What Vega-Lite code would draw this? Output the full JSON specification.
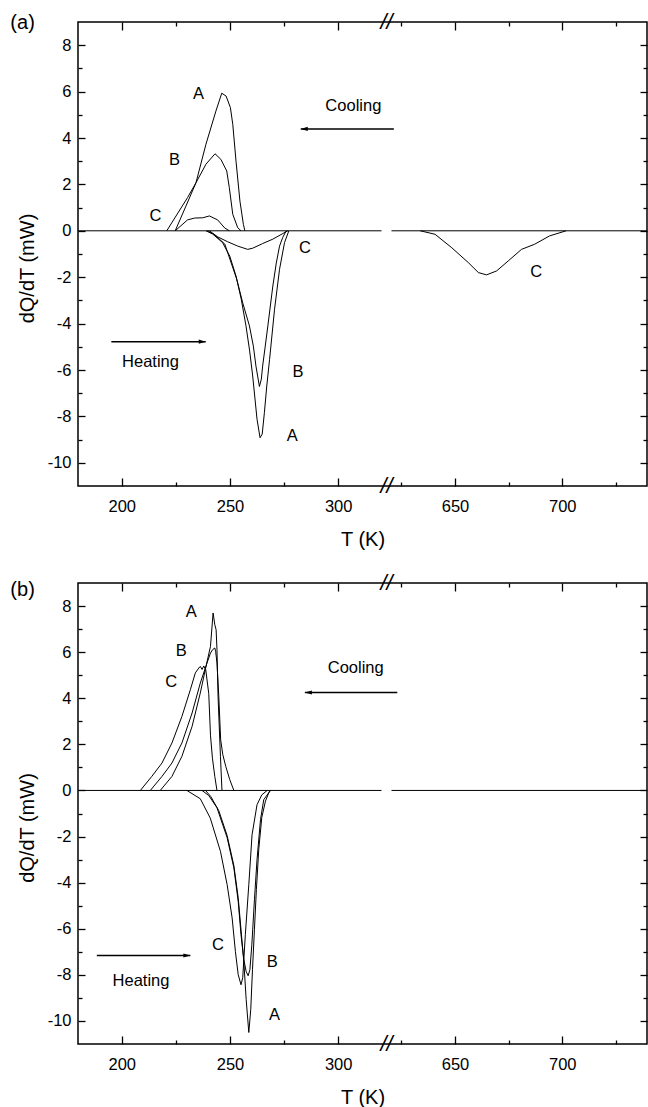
{
  "$schema": "https://vega.github.io/schema/vega-lite/v6.json",
  "padding": {"left": 9, "top": 10, "right": 0, "bottom": 0},
  "spacing": 20,
  "config": {
    "view": {"stroke": "#000", "strokeWidth": 1.5},
    "font": "Liberation Sans",
    "axis": {"labelFont": "Liberation Sans", "titleFont": "Liberation Sans", "labelFontSize": 16.5, "titleFontSize": 20, "titleFontWeight": "normal", "tickColor": "#000", "labelColor": "#000", "titleColor": "#000", "domain": false, "grid": false, "tickWidth": 1.3, "labelOverlap": false, "labelFlush": false}
  },
  "datasets": {
    "curvesA": [
      {"T": 179.8, "Q": 0, "c": "baseL"}, {"T": 320, "Q": 0, "c": "baseL"},
      {"T": 620.4, "Q": 0, "c": "baseR"}, {"T": 739.5, "Q": 0, "c": "baseR"},
      {"T": 224.7, "Q": 0, "c": "Ac"}, {"T": 229.5, "Q": 1.03, "c": "Ac"}, {"T": 234.3, "Q": 2.07, "c": "Ac"}, {"T": 238.9, "Q": 3.73, "c": "Ac"}, {"T": 243.5, "Q": 5.16, "c": "Ac"}, {"T": 246.2, "Q": 5.93, "c": "Ac"}, {"T": 248.2, "Q": 5.81, "c": "Ac"}, {"T": 250.2, "Q": 5.31, "c": "Ac"}, {"T": 251.3, "Q": 4.59, "c": "Ac"}, {"T": 252.8, "Q": 3.0, "c": "Ac"}, {"T": 254.6, "Q": 1.28, "c": "Ac"}, {"T": 256.2, "Q": 0.28, "c": "Ac"}, {"T": 256.9, "Q": 0, "c": "Ac"},
      {"T": 220.8, "Q": 0, "c": "Bc"}, {"T": 230.4, "Q": 1.43, "c": "Bc"}, {"T": 234.3, "Q": 2.07, "c": "Bc"}, {"T": 238.9, "Q": 2.87, "c": "Bc"}, {"T": 243.1, "Q": 3.32, "c": "Bc"}, {"T": 245.8, "Q": 3.08, "c": "Bc"}, {"T": 248.5, "Q": 2.58, "c": "Bc"}, {"T": 249.7, "Q": 1.86, "c": "Bc"}, {"T": 251.3, "Q": 0.71, "c": "Bc"}, {"T": 253.6, "Q": 0.13, "c": "Bc"}, {"T": 255.1, "Q": 0, "c": "Bc"},
      {"T": 224.7, "Q": 0, "c": "Cc"}, {"T": 230.4, "Q": 0.47, "c": "Cc"}, {"T": 233.7, "Q": 0.55, "c": "Cc"}, {"T": 237.4, "Q": 0.56, "c": "Cc"}, {"T": 240.5, "Q": 0.64, "c": "Cc"}, {"T": 244.3, "Q": 0.47, "c": "Cc"}, {"T": 247.6, "Q": 0.12, "c": "Cc"}, {"T": 249.7, "Q": 0, "c": "Cc"},
      {"T": 238.9, "Q": 0, "c": "Ah"}, {"T": 242.0, "Q": -0.14, "c": "Ah"}, {"T": 246.6, "Q": -0.51, "c": "Ah"}, {"T": 249.9, "Q": -1.09, "c": "Ah"}, {"T": 252.8, "Q": -1.95, "c": "Ah"}, {"T": 255.2, "Q": -2.94, "c": "Ah"}, {"T": 257.4, "Q": -4.10, "c": "Ah"}, {"T": 259.1, "Q": -5.18, "c": "Ah"}, {"T": 260.5, "Q": -6.26, "c": "Ah"}, {"T": 262.5, "Q": -8.12, "c": "Ah"}, {"T": 263.9, "Q": -8.92, "c": "Ah"}, {"T": 264.9, "Q": -8.76, "c": "Ah"}, {"T": 265.9, "Q": -7.84, "c": "Ah"}, {"T": 267.0, "Q": -6.69, "c": "Ah"}, {"T": 268.3, "Q": -5.54, "c": "Ah"}, {"T": 270.6, "Q": -3.38, "c": "Ah"}, {"T": 272.9, "Q": -1.66, "c": "Ah"}, {"T": 275.2, "Q": -0.51, "c": "Ah"}, {"T": 277.2, "Q": 0, "c": "Ah"},
      {"T": 239.7, "Q": 0, "c": "Bh"}, {"T": 242.9, "Q": -0.17, "c": "Bh"}, {"T": 247.6, "Q": -0.57, "c": "Bh"}, {"T": 253.1, "Q": -2.08, "c": "Bh"}, {"T": 255.9, "Q": -3.11, "c": "Bh"}, {"T": 259.0, "Q": -4.10, "c": "Bh"}, {"T": 260.8, "Q": -4.97, "c": "Bh"}, {"T": 262.0, "Q": -5.83, "c": "Bh"}, {"T": 263.6, "Q": -6.71, "c": "Bh"}, {"T": 264.5, "Q": -6.39, "c": "Bh"}, {"T": 265.1, "Q": -5.83, "c": "Bh"}, {"T": 266.3, "Q": -4.97, "c": "Bh"}, {"T": 267.5, "Q": -4.10, "c": "Bh"}, {"T": 269.8, "Q": -2.38, "c": "Bh"}, {"T": 271.4, "Q": -1.39, "c": "Bh"}, {"T": 272.9, "Q": -0.66, "c": "Bh"}, {"T": 274.4, "Q": -0.28, "c": "Bh"}, {"T": 276.0, "Q": 0, "c": "Bh"},
      {"T": 240.5, "Q": 0, "c": "Ch"}, {"T": 244.3, "Q": -0.26, "c": "Ch"}, {"T": 248.9, "Q": -0.47, "c": "Ch"}, {"T": 253.6, "Q": -0.66, "c": "Ch"}, {"T": 258.2, "Q": -0.80, "c": "Ch"}, {"T": 260.5, "Q": -0.75, "c": "Ch"}, {"T": 265.1, "Q": -0.55, "c": "Ch"}, {"T": 269.8, "Q": -0.36, "c": "Ch"}, {"T": 274.4, "Q": -0.12, "c": "Ch"}, {"T": 276.7, "Q": 0, "c": "Ch"},
      {"T": 633.8, "Q": 0, "c": "Ch2"}, {"T": 640.7, "Q": -0.15, "c": "Ch2"}, {"T": 648.5, "Q": -0.73, "c": "Ch2"}, {"T": 656.2, "Q": -1.37, "c": "Ch2"}, {"T": 660.9, "Q": -1.80, "c": "Ch2"}, {"T": 664.7, "Q": -1.90, "c": "Ch2"}, {"T": 669.4, "Q": -1.73, "c": "Ch2"}, {"T": 674.8, "Q": -1.30, "c": "Ch2"}, {"T": 681.0, "Q": -0.80, "c": "Ch2"}, {"T": 687.1, "Q": -0.58, "c": "Ch2"}, {"T": 694.1, "Q": -0.22, "c": "Ch2"}, {"T": 701.8, "Q": 0, "c": "Ch2"}
    ],
    "curvesB": [
      {"T": 179.8, "Q": 0, "c": "baseL"}, {"T": 320, "Q": 0, "c": "baseL"},
      {"T": 620.4, "Q": 0, "c": "baseR"}, {"T": 739.5, "Q": 0, "c": "baseR"},
      {"T": 208.6, "Q": 0, "c": "Cc"}, {"T": 213.9, "Q": 0.61, "c": "Cc"}, {"T": 218.6, "Q": 1.19, "c": "Cc"}, {"T": 223.2, "Q": 2.06, "c": "Cc"}, {"T": 227.8, "Q": 3.21, "c": "Cc"}, {"T": 231.7, "Q": 4.37, "c": "Cc"}, {"T": 234.0, "Q": 5.10, "c": "Cc"}, {"T": 235.6, "Q": 5.31, "c": "Cc"}, {"T": 236.3, "Q": 5.38, "c": "Cc"}, {"T": 237.1, "Q": 5.25, "c": "Cc"}, {"T": 237.9, "Q": 5.40, "c": "Cc"}, {"T": 238.8, "Q": 5.24, "c": "Cc"}, {"T": 240.2, "Q": 4.2, "c": "Cc"}, {"T": 241.0, "Q": 2.4, "c": "Cc"}, {"T": 241.9, "Q": 1.4, "c": "Cc"}, {"T": 243.0, "Q": 0.6, "c": "Cc"}, {"T": 244.0, "Q": 0, "c": "Cc"},
      {"T": 213.2, "Q": 0, "c": "Bc"}, {"T": 218.6, "Q": 0.61, "c": "Bc"}, {"T": 223.2, "Q": 1.19, "c": "Bc"}, {"T": 227.8, "Q": 2.06, "c": "Bc"}, {"T": 232.5, "Q": 3.36, "c": "Bc"}, {"T": 236.3, "Q": 4.66, "c": "Bc"}, {"T": 239.4, "Q": 5.53, "c": "Bc"}, {"T": 241.0, "Q": 5.96, "c": "Bc"}, {"T": 242.0, "Q": 6.11, "c": "Bc"}, {"T": 243.0, "Q": 6.18, "c": "Bc"}, {"T": 243.4, "Q": 6.02, "c": "Bc"}, {"T": 244.0, "Q": 5.53, "c": "Bc"}, {"T": 244.8, "Q": 4.15, "c": "Bc"}, {"T": 245.7, "Q": 2.20, "c": "Bc"}, {"T": 246.7, "Q": 1.55, "c": "Bc"}, {"T": 248.1, "Q": 1.03, "c": "Bc"}, {"T": 249.9, "Q": 0.47, "c": "Bc"}, {"T": 251.8, "Q": 0, "c": "Bc"},
      {"T": 217.8, "Q": 0, "c": "Ac"}, {"T": 223.2, "Q": 0.61, "c": "Ac"}, {"T": 227.8, "Q": 1.48, "c": "Ac"}, {"T": 232.5, "Q": 2.78, "c": "Ac"}, {"T": 236.3, "Q": 4.23, "c": "Ac"}, {"T": 238.6, "Q": 5.24, "c": "Ac"}, {"T": 241.0, "Q": 6.25, "c": "Ac"}, {"T": 242.2, "Q": 7.70, "c": "Ac"}, {"T": 243.0, "Q": 7.19, "c": "Ac"}, {"T": 243.6, "Q": 6.97, "c": "Ac"}, {"T": 244.0, "Q": 6.11, "c": "Ac"}, {"T": 244.5, "Q": 4.08, "c": "Ac"}, {"T": 245.6, "Q": 1.48, "c": "Ac"}, {"T": 246.3, "Q": 0, "c": "Ac"},
      {"T": 230.1, "Q": 0, "c": "Ch"}, {"T": 236.3, "Q": -0.36, "c": "Ch"}, {"T": 240.9, "Q": -1.20, "c": "Ch"}, {"T": 245.6, "Q": -2.64, "c": "Ch"}, {"T": 248.7, "Q": -4.09, "c": "Ch"}, {"T": 251.0, "Q": -5.53, "c": "Ch"}, {"T": 252.5, "Q": -6.98, "c": "Ch"}, {"T": 253.8, "Q": -7.99, "c": "Ch"}, {"T": 255.1, "Q": -8.43, "c": "Ch"}, {"T": 255.9, "Q": -8.12, "c": "Ch"}, {"T": 257.1, "Q": -6.26, "c": "Ch"}, {"T": 258.7, "Q": -4.09, "c": "Ch"}, {"T": 260.2, "Q": -1.92, "c": "Ch"}, {"T": 262.5, "Q": -0.62, "c": "Ch"}, {"T": 264.7, "Q": -0.19, "c": "Ch"}, {"T": 267.2, "Q": 0, "c": "Ch"},
      {"T": 237.1, "Q": 0, "c": "Bh"}, {"T": 240.2, "Q": -0.22, "c": "Bh"}, {"T": 244.0, "Q": -0.75, "c": "Bh"}, {"T": 248.7, "Q": -2.05, "c": "Bh"}, {"T": 251.8, "Q": -3.36, "c": "Bh"}, {"T": 253.8, "Q": -4.81, "c": "Bh"}, {"T": 255.1, "Q": -6.26, "c": "Bh"}, {"T": 256.4, "Q": -7.34, "c": "Bh"}, {"T": 257.5, "Q": -7.86, "c": "Bh"}, {"T": 258.4, "Q": -8.04, "c": "Bh"}, {"T": 259.2, "Q": -7.78, "c": "Bh"}, {"T": 260.1, "Q": -6.70, "c": "Bh"}, {"T": 261.3, "Q": -4.74, "c": "Bh"}, {"T": 262.5, "Q": -3.00, "c": "Bh"}, {"T": 264.1, "Q": -1.27, "c": "Bh"}, {"T": 265.6, "Q": -0.40, "c": "Bh"}, {"T": 268.7, "Q": 0, "c": "Bh"},
      {"T": 238.7, "Q": 0, "c": "Ah"}, {"T": 241.1, "Q": -0.26, "c": "Ah"}, {"T": 244.8, "Q": -0.87, "c": "Ah"}, {"T": 248.7, "Q": -1.96, "c": "Ah"}, {"T": 251.8, "Q": -3.26, "c": "Ah"}, {"T": 253.8, "Q": -4.65, "c": "Ah"}, {"T": 255.1, "Q": -6.04, "c": "Ah"}, {"T": 256.4, "Q": -7.43, "c": "Ah"}, {"T": 257.5, "Q": -9.08, "c": "Ah"}, {"T": 258.7, "Q": -10.50, "c": "Ah"}, {"T": 259.6, "Q": -9.51, "c": "Ah"}, {"T": 260.4, "Q": -7.78, "c": "Ah"}, {"T": 261.3, "Q": -6.04, "c": "Ah"}, {"T": 262.2, "Q": -4.30, "c": "Ah"}, {"T": 263.3, "Q": -2.56, "c": "Ah"}, {"T": 264.7, "Q": -1.17, "c": "Ah"}, {"T": 266.4, "Q": -0.46, "c": "Ah"}, {"T": 268.2, "Q": -0.04, "c": "Ah"}, {"T": 268.9, "Q": 0, "c": "Ah"}
    ],
    "textA": [
      {"T": 235.5, "Q": 5.9, "t": "A"}, {"T": 224.4, "Q": 3.05, "t": "B"}, {"T": 215.6, "Q": 0.64, "t": "C"}, {"T": 284.6, "Q": -0.74, "t": "C"},
      {"T": 307, "Q": 5.38, "t": "Cooling"}, {"T": 213.3, "Q": -5.66, "t": "Heating"}, {"T": 281.4, "Q": -6.09, "t": "B"}, {"T": 278.8, "Q": -8.84, "t": "A"}, {"T": 687.9, "Q": -1.78, "t": "C"}
    ],
    "textB": [
      {"T": 232.1, "Q": 7.73, "t": "A"}, {"T": 227.5, "Q": 6.03, "t": "B"}, {"T": 222.8, "Q": 4.70, "t": "C"},
      {"T": 308.1, "Q": 5.31, "t": "Cooling"}, {"T": 244.4, "Q": -6.69, "t": "C"}, {"T": 269.5, "Q": -7.45, "t": "B"}, {"T": 270.6, "Q": -9.76, "t": "A"}, {"T": 208.9, "Q": -8.28, "t": "Heating"}
    ],
    "panelA": [{"T": 154.2, "Q": 8.96, "t": "(a)"}],
    "panelB": [{"T": 154.2, "Q": 8.71, "t": "(b)"}],
    "arrowsA": [
      {"T1": 621.5, "T2": 282.7, "Q": 4.39, "dir": "L"},
      {"T1": 195.2, "T2": 238.8, "Q": -4.78, "dir": "R"}
    ],
    "arrowsB": [
      {"T1": 623.1, "T2": 284.6, "Q": 4.25, "dir": "L"},
      {"T1": 188.5, "T2": 231.7, "Q": -7.16, "dir": "R"}
    ],
    "breaks": [
      {"T": 470.2, "Q": 9}, {"T": 470.2, "Q": -11}
    ]
  },
  "vconcat": [
    {
      "width": 569, "height": 464,
      "layer": [
        {
          "data": {"name": "curvesA"},
          "mark": {"type": "line", "color": "#000", "strokeWidth": 1},
          "encoding": {
            "x": {"field": "T", "type": "quantitative", "scale": {"domain": [179.8, 320, 620.4, 739.5], "range": [0, 303.5, 313.5, 569], "nice": false, "zero": false},
              "axis": {"orient": "bottom", "values": [200, 225, 250, 275, 300, 625, 650, 675, 700, 725], "labelExpr": "datum.value % 50 == 0 ? '' + datum.value : ''", "tickSize": {"condition": {"test": "datum.value % 50 != 0", "value": -4}, "value": -8}, "labelPadding": 20, "title": "T (K)", "titlePadding": 11}},
            "y": {"field": "Q", "type": "quantitative", "scale": {"domain": [-11, 9], "nice": false, "zero": false},
              "axis": {"orient": "left", "values": [-10, -9, -8, -7, -6, -5, -4, -3, -2, -1, 0, 1, 2, 3, 4, 5, 6, 7, 8], "labelExpr": "datum.value % 2 == 0 ? '' + datum.value : ''", "tickSize": {"condition": {"test": "datum.value % 2 != 0", "value": -4}, "value": -7}, "labelPadding": 14, "title": "dQ/dT (mW)", "titlePadding": 10, "titleY": 246}},
            "detail": {"field": "c"}
          }
        },
        {
          "data": {"name": "textA"},
          "mark": {"type": "text", "fontSize": 16.5, "align": "center", "baseline": "middle", "color": "#000"},
          "encoding": {
            "x": {"field": "T", "type": "quantitative", "scale": {"domain": [179.8, 320, 620.4, 739.5], "range": [0, 303.5, 313.5, 569], "nice": false, "zero": false},
              "axis": {"orient": "top", "values": [200, 225, 250, 275, 300, 625, 650, 675, 700, 725], "labels": false, "tickSize": {"condition": {"test": "datum.value % 50 != 0", "value": -4}, "value": -8}, "title": null}},
            "y": {"field": "Q", "type": "quantitative", "scale": {"domain": [-11, 9], "nice": false, "zero": false},
              "axis": {"orient": "right", "values": [-10, -9, -8, -7, -6, -5, -4, -3, -2, -1, 0, 1, 2, 3, 4, 5, 6, 7, 8], "labels": false, "tickSize": {"condition": {"test": "datum.value % 2 != 0", "value": -4}, "value": -7}, "title": null}},
            "text": {"field": "t"}
          }
        },
        {
          "data": {"name": "panelA"},
          "mark": {"type": "text", "fontSize": 20, "align": "center", "baseline": "middle", "color": "#000"},
          "encoding": {
            "x": {"field": "T", "type": "quantitative", "axis": null},
            "y": {"field": "Q", "type": "quantitative", "axis": null},
            "text": {"field": "t"}
          }
        },
        {
          "data": {"name": "arrowsA"},
          "mark": {"type": "rule", "color": "#000", "strokeWidth": 1.5},
          "encoding": {
            "x": {"field": "T1", "type": "quantitative", "axis": null},
            "x2": {"field": "T2"},
            "y": {"field": "Q", "type": "quantitative", "axis": null}
          }
        },
        {
          "data": {"name": "arrowsA"},
          "transform": [{"filter": "datum.dir == 'L'"}],
          "mark": {"type": "point", "shape": "M0,0L2,-0.6L2,0.6Z", "filled": true, "size": 49, "color": "#000", "opacity": 1},
          "encoding": {
            "x": {"field": "T2", "type": "quantitative", "axis": null},
            "y": {"field": "Q", "type": "quantitative", "axis": null}
          }
        },
        {
          "data": {"name": "arrowsA"},
          "transform": [{"filter": "datum.dir == 'R'"}],
          "mark": {"type": "point", "shape": "M0,0L-2,-0.6L-2,0.6Z", "filled": true, "size": 49, "color": "#000", "opacity": 1},
          "encoding": {
            "x": {"field": "T2", "type": "quantitative", "axis": null},
            "y": {"field": "Q", "type": "quantitative", "axis": null}
          }
        },
        {
          "data": {"name": "breaks"},
          "mark": {"type": "text", "text": "//", "fontSize": 22, "fontStyle": "italic", "align": "center", "baseline": "middle", "color": "#000"},
          "encoding": {
            "x": {"field": "T", "type": "quantitative", "axis": null},
            "y": {"field": "Q", "type": "quantitative", "axis": null}
          }
        }
      ],
      "resolve": {"axis": {"x": "independent", "y": "independent"}}
    },
    {
      "width": 569, "height": 461,
      "layer": [
        {
          "data": {"name": "curvesB"},
          "mark": {"type": "line", "color": "#000", "strokeWidth": 1},
          "encoding": {
            "x": {"field": "T", "type": "quantitative", "scale": {"domain": [179.8, 320, 620.4, 739.5], "range": [0, 303.5, 313.5, 569], "nice": false, "zero": false},
              "axis": {"orient": "bottom", "values": [200, 225, 250, 275, 300, 625, 650, 675, 700, 725], "labelExpr": "datum.value % 50 == 0 ? '' + datum.value : ''", "tickSize": {"condition": {"test": "datum.value % 50 != 0", "value": -4}, "value": -8}, "labelPadding": 20, "title": "T (K)", "titlePadding": 11}},
            "y": {"field": "Q", "type": "quantitative", "scale": {"domain": [-11, 9], "nice": false, "zero": false},
              "axis": {"orient": "left", "values": [-10, -9, -8, -7, -6, -5, -4, -3, -2, -1, 0, 1, 2, 3, 4, 5, 6, 7, 8], "labelExpr": "datum.value % 2 == 0 ? '' + datum.value : ''", "tickSize": {"condition": {"test": "datum.value % 2 != 0", "value": -4}, "value": -7}, "labelPadding": 14, "title": "dQ/dT (mW)", "titlePadding": 10, "titleY": 244.5}},
            "detail": {"field": "c"}
          }
        },
        {
          "data": {"name": "textB"},
          "mark": {"type": "text", "fontSize": 16.5, "align": "center", "baseline": "middle", "color": "#000"},
          "encoding": {
            "x": {"field": "T", "type": "quantitative", "scale": {"domain": [179.8, 320, 620.4, 739.5], "range": [0, 303.5, 313.5, 569], "nice": false, "zero": false},
              "axis": {"orient": "top", "values": [200, 225, 250, 275, 300, 625, 650, 675, 700, 725], "labels": false, "tickSize": {"condition": {"test": "datum.value % 50 != 0", "value": -4}, "value": -8}, "title": null}},
            "y": {"field": "Q", "type": "quantitative", "scale": {"domain": [-11, 9], "nice": false, "zero": false},
              "axis": {"orient": "right", "values": [-10, -9, -8, -7, -6, -5, -4, -3, -2, -1, 0, 1, 2, 3, 4, 5, 6, 7, 8], "labels": false, "tickSize": {"condition": {"test": "datum.value % 2 != 0", "value": -4}, "value": -7}, "title": null}},
            "text": {"field": "t"}
          }
        },
        {
          "data": {"name": "panelB"},
          "mark": {"type": "text", "fontSize": 20, "align": "center", "baseline": "middle", "color": "#000"},
          "encoding": {
            "x": {"field": "T", "type": "quantitative", "axis": null},
            "y": {"field": "Q", "type": "quantitative", "axis": null},
            "text": {"field": "t"}
          }
        },
        {
          "data": {"name": "arrowsB"},
          "mark": {"type": "rule", "color": "#000", "strokeWidth": 1.5},
          "encoding": {
            "x": {"field": "T1", "type": "quantitative", "axis": null},
            "x2": {"field": "T2"},
            "y": {"field": "Q", "type": "quantitative", "axis": null}
          }
        },
        {
          "data": {"name": "arrowsB"},
          "transform": [{"filter": "datum.dir == 'L'"}],
          "mark": {"type": "point", "shape": "M0,0L2,-0.6L2,0.6Z", "filled": true, "size": 49, "color": "#000", "opacity": 1},
          "encoding": {
            "x": {"field": "T2", "type": "quantitative", "axis": null},
            "y": {"field": "Q", "type": "quantitative", "axis": null}
          }
        },
        {
          "data": {"name": "arrowsB"},
          "transform": [{"filter": "datum.dir == 'R'"}],
          "mark": {"type": "point", "shape": "M0,0L-2,-0.6L-2,0.6Z", "filled": true, "size": 49, "color": "#000", "opacity": 1},
          "encoding": {
            "x": {"field": "T2", "type": "quantitative", "axis": null},
            "y": {"field": "Q", "type": "quantitative", "axis": null}
          }
        },
        {
          "data": {"name": "breaks"},
          "mark": {"type": "text", "text": "//", "fontSize": 22, "fontStyle": "italic", "align": "center", "baseline": "middle", "color": "#000"},
          "encoding": {
            "x": {"field": "T", "type": "quantitative", "axis": null},
            "y": {"field": "Q", "type": "quantitative", "axis": null}
          }
        }
      ],
      "resolve": {"axis": {"x": "independent", "y": "independent"}}
    }
  ]
}
